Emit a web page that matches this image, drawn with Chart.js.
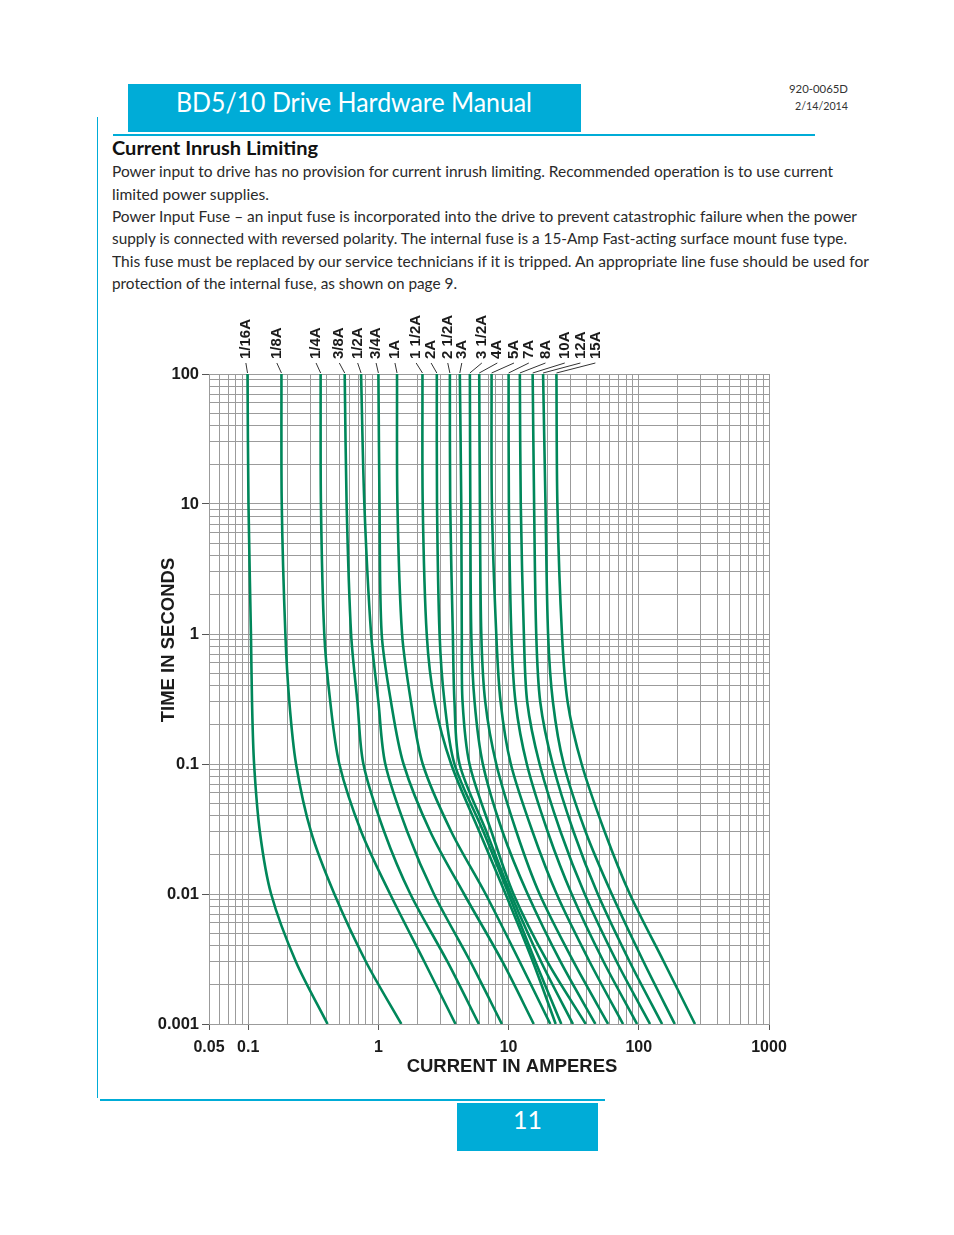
<!DOCTYPE html>
<html>
<head>
<meta charset="utf-8">
<script src="https://cdn.jsdelivr.net/npm/chart.js@4.4.1/dist/chart.umd.min.js"></script>
<style>
body{margin:0;background:#fff;}
#page{position:relative;width:954px;height:1235px;overflow:hidden;font-family:Lato,"Open Sans",sans-serif;color:#231f20;}
.t{position:absolute;white-space:nowrap;transform-origin:0 50%;}
.bar{position:absolute;background:#00acd7;}
#hdr{left:128px;top:84px;width:453px;height:48px;}
#title{left:176px;top:86px;font-size:27px;line-height:32px;color:#fff;}
.docno{font-size:12px;line-height:16px;color:#333;}
#head{left:112px;top:137px;font-size:19px;line-height:22px;font-weight:bold;color:#111;}
.para{font-size:16px;line-height:22px;color:#2a2a2a;left:112px;}
#pgbox{left:457px;top:1103px;width:141px;height:48px;}
#pgno{left:457px;width:141px;top:1104px;font-size:25px;line-height:30px;color:#fff;text-align:center;}
#chart{position:absolute;left:140px;top:300px;}
</style>
</head>
<body>
<div id="page">
  <div class="bar" id="hdr"></div>
  <span class="t" id="title">BD5/10 Drive Hardware Manual</span>
  <span class="t docno" id="doc1" style="left:789px;top:81px;">920-0065D</span>
  <span class="t docno" id="doc2" style="left:795px;top:98px;">2/14/2014</span>
  <div class="bar" style="left:113px;top:134px;width:702px;height:2px;"></div>
  <div class="bar" style="left:97px;top:117px;width:1px;height:981px;"></div>

  <span class="t" id="head">Current Inrush Limiting</span>
  <span class="t para" id="p1" style="top:160px;">Power input to drive has no provision for current inrush limiting. Recommended operation is to use current</span>
  <span class="t para" id="p2" style="top:183px;">limited power supplies.</span>
  <span class="t para" id="p3" style="top:205px;">Power Input Fuse – an input fuse is incorporated into the drive to prevent catastrophic failure when the power</span>
  <span class="t para" id="p4" style="top:227px;">supply is connected with reversed polarity. The internal fuse is a 15-Amp Fast-acting surface mount fuse type.</span>
  <span class="t para" id="p5" style="top:250px;">This fuse must be replaced by our service technicians if it is tripped. An appropriate line fuse should be used for</span>
  <span class="t para" id="p6" style="top:272px;">protection of the internal fuse, as shown on page 9.</span>

  <canvas id="chart" width="660" height="790"></canvas>

  <div class="bar" style="left:100px;top:1099px;width:505px;height:2px;"></div>
  <div class="bar" id="pgbox"></div>
  <div class="t" id="pgno">11</div>
</div>

<script>
// fuse blow curves: time (s) vs current (A)
const timeSec = [100, 10, 1, 0.3, 0.1, 0.03, 0.01, 0.003, 0.001];

const fuseNames = ["1/16A","1/8A","1/4A","3/8A","1/2A","3/4A","1A","1 1/2A","2A","2 1/2A",
                   "3A","3 1/2A","4A","5A","7A","8A","10A","12A","15A"];

// current in amperes at each entry of timeSec
const f1_16 = [0.0988, 0.1005, 0.105, 0.107, 0.111, 0.123, 0.150, 0.233, 0.407];
const f1_8  = [0.180, 0.181, 0.193, 0.207, 0.233, 0.304, 0.459, 0.804, 1.50];
const f1_4  = [0.360, 0.362, 0.384, 0.427, 0.501, 0.740, 1.23, 2.26, 3.91];
const f3_8  = [0.551, 0.570, 0.617, 0.690, 0.767, 1.11, 1.76, 3.40, 5.91];
const f1_2  = [0.736, 0.780, 0.879, 1.00, 1.13, 1.67, 2.67, 5.10, 8.88];
const f3_4  = [1.00, 1.02, 1.06, 1.25, 1.56, 2.51, 4.55, 8.99, 15.6];
const f1    = [1.39, 1.40, 1.52, 1.78, 2.19, 3.64, 6.66, 12.2, 20.9];
const f1_5  = [2.18, 2.19, 2.35, 2.70, 3.62, 5.98, 9.48, 15.4, 23.0];
const f2    = [2.81, 2.82, 2.95, 3.22, 3.84, 6.42, 10.0, 16.1, 25.4];
const f2_5  = [3.54, 3.56, 3.73, 3.84, 4.20, 6.77, 10.4, 17.8, 31.2];
const f3    = [4.22, 4.33, 4.37, 4.43, 5.01, 7.40, 10.9, 19.9, 39.1];
const f3_5  = [5.04, 5.08, 5.17, 5.48, 6.34, 9.00, 14.0, 25.1, 46.4];
const f4    = [5.95, 6.02, 6.17, 6.62, 8.04, 11.5, 17.3, 31.6, 58.1];
const f5    = [7.40, 7.44, 8.04, 8.68, 10.4, 15.3, 23.4, 42.0, 75.7];
const f7    = [10.0, 10.05, 10.5, 11.3, 13.8, 20.0, 30.5, 53.8, 97.0];
const f8    = [12.2, 12.4, 13.1, 13.9, 17.3, 25.1, 38.4, 67.8, 122];
const f10   = [15.3, 15.7, 16.3, 17.5, 21.8, 31.6, 48.4, 85.3, 151];
const f12   = [18.4, 19.2, 20.1, 21.9, 26.5, 39.1, 62.0, 109, 189];
const f15   = [23.3, 23.7, 25.7, 28.4, 36.4, 54.8, 85.3, 156, 270];

const fuseAmps = [f1_16, f1_8, f1_4, f3_8, f1_2, f3_4, f1, f1_5, f2, f2_5,
                  f3, f3_5, f4, f5, f7, f8, f10, f12, f15];

// current where each rotated fuse label sits above the plot
const labelAmps = [0.096, 0.166, 0.332, 0.501, 0.693, 0.960, 1.34, 1.95, 2.54, 3.41,
                   4.37, 6.23, 8.19, 11.0, 14.3, 19.2, 27.0, 35.6, 46.4];

const xTickLabels = ["0.05", "0.1", "1", "10", "100", "1000"];
const yTickLabels = ["0.001", "0.01", "0.1", "1", "10", "100"];

// log grid: 1..9 in every decade between the axis limits
function logGrid(min, max) {
    const out = [];
    for (let e = -4; e <= 4; e++) {
        for (let k = 1; k <= 9; k++) {
            const v = Number((k * Math.pow(10, e)).toPrecision(3));
            if (v >= min - 1e-12 && v <= max + 1e-12) out.push(v);
        }
    }
    return out;
}

function tickText(list, v) {
    const s = list.find(t => Math.abs(Number(t) - v) < 1e-9);
    return s === undefined ? "" : s;
}

const GRID = "#9b9b9b";
const INK = "#1b1b1b";
const GREEN = "#00875a";

const fuseLabels = {
    id: "fuseLabels",
    afterDatasetsDraw(chart) {
        const {ctx, chartArea, scales} = chart;
        const x = scales.x;
        ctx.save();
        ctx.strokeStyle = "#333";
        ctx.lineWidth = 1;
        ctx.fillStyle = INK;
        ctx.font = 'bold 15px "Liberation Sans", Arial, sans-serif';
        fuseNames.forEach((name, i) => {
            const lx = x.getPixelForValue(labelAmps[i]);
            const cx = x.getPixelForValue(fuseAmps[i][0]);
            ctx.beginPath();
            ctx.moveTo(lx, chartArea.top - 11);
            ctx.lineTo(cx, chartArea.top - 1);
            ctx.stroke();
            ctx.save();
            ctx.translate(lx, chartArea.top - 15);
            ctx.rotate(-Math.PI / 2);
            ctx.textAlign = "left";
            ctx.textBaseline = "middle";
            ctx.fillText(name, 0, 0);
            ctx.restore();
        });

        // axis titles
        ctx.font = 'bold 18.5px "Liberation Sans", Arial, sans-serif';
        ctx.textAlign = "center";
        ctx.textBaseline = "middle";
        ctx.fillText("CURRENT IN AMPERES", 372, 767);
        ctx.save();
        ctx.translate(29, 340);
        ctx.rotate(-Math.PI / 2);
        ctx.fillText("TIME IN SECONDS", 0, 0);
        ctx.restore();
        ctx.restore();
    }
};

Chart.defaults.font.family = '"Liberation Sans", Arial, sans-serif';

new Chart(document.getElementById("chart"), {
    type: "scatter",
    data: {
        datasets: fuseAmps.map((amps, i) => ({
            label: fuseNames[i],
            data: amps.map((a, j) => ({x: a, y: timeSec[j]})),
            showLine: true,
            borderColor: GREEN,
            borderWidth: 2.6,
            pointRadius: 0,
            tension: 0.3,
            fill: false
        }))
    },
    options: {
        responsive: false,
        animation: false,
        devicePixelRatio: 1,
        layout: {padding: {top: 74, right: 31, left: 0, bottom: 0}},
        plugins: {legend: {display: false}, tooltip: {enabled: false}},
        scales: {
            x: {
                type: "logarithmic",
                min: 0.05,
                max: 1000,
                afterBuildTicks: s => { s.ticks = logGrid(0.05, 1000).map(v => ({value: v})); },
                afterFit: s => { s.height = 66; },
                grid: {
                    color: GRID,
                    lineWidth: 1,
                    tickLength: 6,
                    tickColor: c => tickText(xTickLabels, c.tick.value) ? "#555" : "rgba(0,0,0,0)"
                },
                border: {color: GRID},
                ticks: {
                    autoSkip: false,
                    maxRotation: 0,
                    padding: 8,
                    color: INK,
                    font: {size: 16, weight: "bold"},
                    callback: v => tickText(xTickLabels, v)
                }
            },
            y: {
                type: "logarithmic",
                min: 0.001,
                max: 100,
                afterBuildTicks: s => { s.ticks = logGrid(0.001, 100).map(v => ({value: v})); },
                afterFit: s => { s.width = 69; },
                grid: {
                    color: GRID,
                    lineWidth: 1,
                    tickLength: 7,
                    tickColor: c => tickText(yTickLabels, c.tick.value) ? "#555" : "rgba(0,0,0,0)"
                },
                border: {color: GRID},
                ticks: {
                    autoSkip: false,
                    padding: 3,
                    color: INK,
                    font: {size: 16.5, weight: "bold"},
                    callback: v => tickText(yTickLabels, v)
                }
            }
        }
    },
    plugins: [fuseLabels]
});

// squeeze the page text to the widths of the printed lines
function fit(id, w) {
    const el = document.getElementById(id);
    const r = el.getBoundingClientRect().width;
    if (r > 0) el.style.transform = "scaleX(" + (w / r) + ")";
}
fit("title", 356);
fit("doc1", 59);
fit("doc2", 53);
fit("head", 206);
fit("p1", 721);
fit("p2", 157);
fit("p3", 745);
fit("p4", 735);
fit("p5", 757);
fit("p6", 345);
</script>
</body>
</html>
